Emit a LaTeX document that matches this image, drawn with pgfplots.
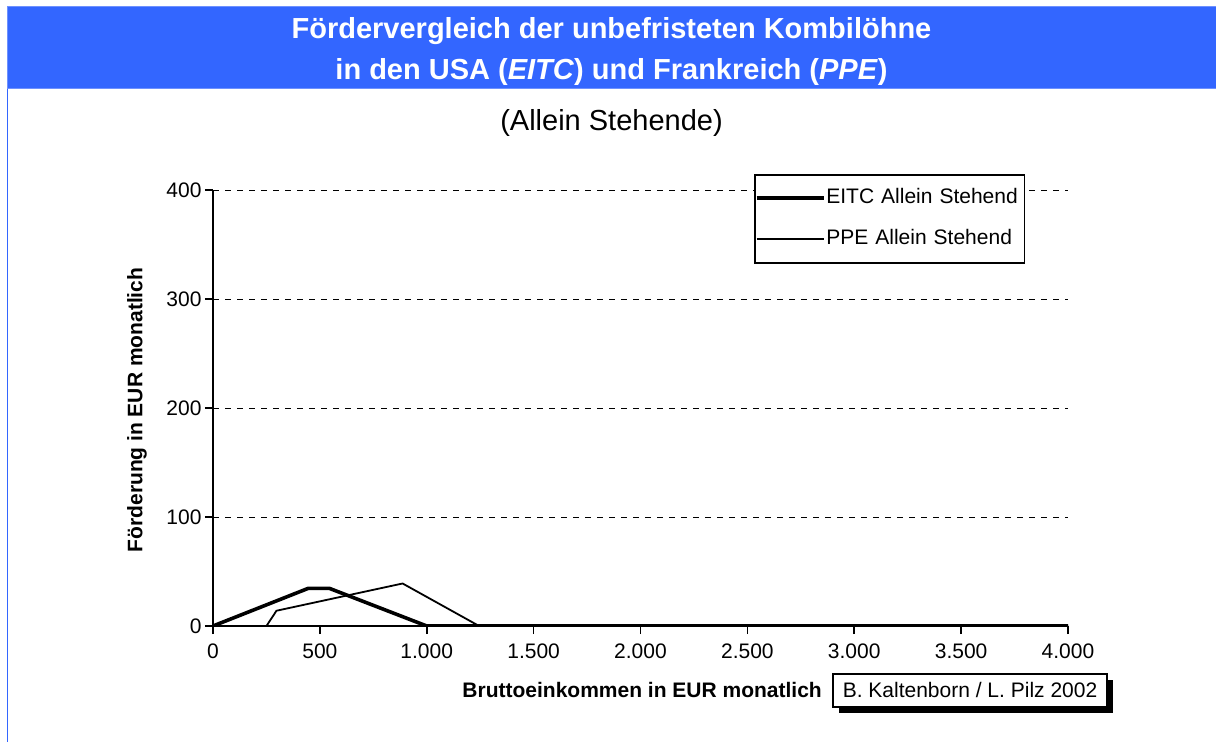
\documentclass[border=0pt]{standalone}
\usepackage{pgfplots}
\pgfplotsset{compat=1.18}
\usepackage{fontspec}
\setmainfont{Liberation Sans}
\definecolor{banner}{RGB}{51,102,255}
\definecolor{bannerline}{RGB}{110,145,255}
\newcommand{\fs}[1]{\fontsize{#1}{#1}\selectfont}
\begin{document}
\begin{tikzpicture}[x=1pt,y=1pt]
\useasboundingbox (0,0) rectangle (1216,742);
% banner
\fill[banner] (7,735) rectangle (1216,653);
\draw[bannerline, line width=1pt] (1216,735) -- (7,735) -- (7,653) -- (1216,653);
\draw[banner, line width=1.8pt] (7.5,653) -- (7.5,0);
\node[anchor=base, text=white, font=\fs{29}\bfseries, inner sep=0pt] at (611.5,703) {Fördervergleich der unbefristeten Kombilöhne};
\node[anchor=base, text=white, font=\fs{29}\bfseries, inner sep=0pt] at (611.5,662) {in den USA (\textit{EITC}) und Frankreich (\textit{PPE})};
\node[anchor=base, font=\fs{29}, inner sep=0pt] at (611.5,611) {(Allein Stehende)};
\begin{axis}[
  at={(213pt,116pt)}, anchor=south west,
  scale only axis, width=855pt, height=436pt,
  xmin=0, xmax=4000, ymin=0, ymax=400,
  axis x line*=bottom, axis y line*=left,
  axis line style={line width=2pt, -},
  xtick={0,500,...,4000}, ytick={0,100,...,400},
  tick align=outside, major tick length=8pt,
  tick style={line width=1.6pt, black},
  ymajorgrids,
  grid style={black, line width=0.9pt, dash pattern=on 6pt off 6pt},
  /pgf/number format/assume math mode=true,
  /pgf/number format/1000 sep={.},
  ticklabel style={font=\fs{21}},
  x tick label style={yshift=-6pt},
  xlabel={Bruttoeinkommen in EUR monatlich},
  xlabel style={at={(axis description cs:0.7123,-0.1651)}, anchor=base east, font=\fs{21}\bfseries, inner sep=0pt},
  ylabel={Förderung in EUR monatlich},
  ylabel style={at={(axis description cs:-0.0889,0.4954)}, anchor=center, font=\fs{21}\bfseries, inner sep=0pt},
  legend cell align=left,
  legend image code/.code={\draw[#1] (-3pt,0pt) -- (64pt,0pt);},
  legend style={at={(axis description cs:0.6327,1.0367)}, anchor=north west,
    draw=black, line width=1.6pt, fill=white, font=\fs{21},
    inner xsep=0pt, inner ysep=13.5pt, row sep=21pt,
    nodes={inner sep=0pt, text height=15pt, text depth=5pt, text width=198pt, align=left},
    /tikz/every odd column/.append style={column sep=1pt}},
]
\addplot[black, line width=3.6pt, line join=miter] coordinates {
 (0,0) (445,34.5) (545,34.5) (1000,0) (4000,0)};
\addlegendentry{EITC Allein Stehend}
\addplot[black, line width=1.8pt, line join=miter] coordinates {
 (0,0) (250,0) (297,14) (887,39) (1245,0) (4000,0)};
\addlegendentry{PPE Allein Stehend}
\end{axis}
% source box with shadow
\fill[black] (839,29) rectangle (1113,62);
\draw[black, fill=white, line width=1.2pt] (833,68) rectangle (1107,35);
\node[anchor=base, font=\fs{21}, inner sep=0pt] at (970,45) {B. Kaltenborn / L. Pilz 2002};
\end{tikzpicture}
\end{document}
